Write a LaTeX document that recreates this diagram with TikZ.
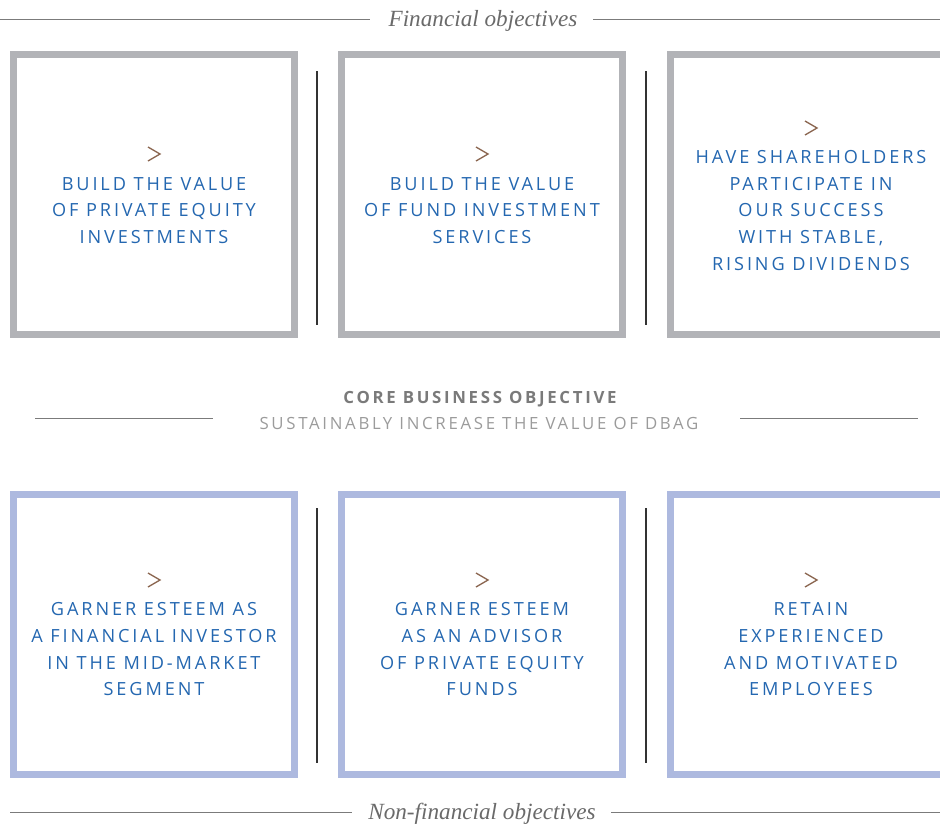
\documentclass[tikz,border=0pt]{standalone}
\usepackage{fontspec}
\setmainfont{Liberation Serif}
\newfontfamily\objfont[LetterSpace=16]{Open Sans}
\newfontfamily\corefont[LetterSpace=16]{Open Sans}
\definecolor{framegray}{HTML}{B2B3B7}
\definecolor{frameblue}{HTML}{ADB9DF}
\definecolor{objblue}{HTML}{2467B0}
\definecolor{chevbrown}{HTML}{8B6650}
\definecolor{titlegray}{HTML}{6A6A6A}
\definecolor{rulegray}{HTML}{7B7B7B}
\definecolor{coregray}{HTML}{7A7A7A}
\definecolor{subgray}{HTML}{9B9B9B}
\begin{document}
\begin{tikzpicture}[x=0.75pt,y=-0.75pt,
  framebox/.style={draw, line width=5.25pt, minimum width=210.75pt, minimum height=210pt, inner sep=0pt},
  grayframe/.style={framebox, draw=framegray},
  blueframe/.style={framebox, draw=frameblue},
  objtext/.style={align=center, text=objblue, font=\objfont\fontsize{13.6}{20}\selectfont, inner sep=0pt},
  chev/.style={draw=chevbrown, line width=1pt},
  sep/.style={draw=black!80, line width=0.8pt},
  hrule/.style={draw=rulegray, line width=0.75pt},
  title/.style={text=titlegray, font=\itshape\fontsize{17.4}{20}\selectfont, inner sep=0pt}
]
\useasboundingbox (0,0) rectangle (940,825);

% ---- financial objectives ----
\node[title] (fin) at (483,21) {Financial objectives};
\coordinate (finL) at (0,19);
\coordinate (finR) at (940,19);
\draw[hrule] (finL) -- (370,19);
\draw[hrule] (593,19) -- (finR);

\node[grayframe] (f1) at (154,194.5) {};
\node[grayframe] (f2) at (481.5,194.5) {};
\begin{scope}
  \clip (0,0) rectangle (940,825);
  \node[grayframe] (f3) at (810.5,194.5) {};
\end{scope}

\draw[sep] (317,71) -- (317,325);
\draw[sep] (646,71) -- (646,325);

\draw[chev] (148,147) -- (160,154) -- (148,161);
\draw[chev] (476,147) -- (488,154) -- (476,161);
\draw[chev] (805,121) -- (817,128) -- (805,135);

\node[objtext] (t1) at (154,210.5) {BUILD THE VALUE\\OF PRIVATE EQUITY\\INVESTMENTS};
\node[objtext] (t2) at (482,210.5) {BUILD THE VALUE\\OF FUND INVESTMENT\\SERVICES};
\node[objtext] (t3) at (811,210.5) {HAVE SHAREHOLDERS\\PARTICIPATE IN\\OUR SUCCESS\\WITH STABLE,\\RISING DIVIDENDS};

% ---- core business objective ----
\node[text=coregray, font=\corefont\bfseries\fontsize{12.6}{14}\selectfont, inner sep=0pt] (core) at (480,399.5) {CORE BUSINESS OBJECTIVE};
\node[text=subgray, font=\corefont\fontsize{12.6}{14}\selectfont, inner sep=0pt] (coresub) at (479,423) {SUSTAINABLY INCREASE THE VALUE OF DBAG};
\draw[hrule] (35,418) -- (213,418);
\draw[hrule] (740,418) -- (918,418);

% ---- non-financial objectives ----
\node[blueframe] (n1) at (154,634.5) {};
\node[blueframe] (n2) at (481.5,634.5) {};
\begin{scope}
  \clip (0,0) rectangle (940,825);
  \node[blueframe] (n3) at (810.5,634.5) {};
\end{scope}

\draw[sep] (317,508) -- (317,763);
\draw[sep] (646,508) -- (646,763);

\draw[chev] (148,573) -- (160,580) -- (148,587);
\draw[chev] (476,573) -- (488,580) -- (476,587);
\draw[chev] (805,573) -- (817,580) -- (805,587);

\node[objtext] (u1) at (154,649.5) {GARNER ESTEEM AS\\A FINANCIAL INVESTOR\\IN THE MID-MARKET\\SEGMENT};
\node[objtext] (u2) at (482,649.5) {GARNER ESTEEM\\AS AN ADVISOR\\OF PRIVATE EQUITY\\FUNDS};
\node[objtext] (u3) at (811,649.5) {RETAIN\\EXPERIENCED\\AND MOTIVATED\\EMPLOYEES};

\node[title] (nonfin) at (482,814) {Non-financial objectives};
\coordinate (nfL) at (10,812);
\coordinate (nfR) at (940,812);
\draw[hrule] (nfL) -- (352,812);
\draw[hrule] (611,812) -- (nfR);
\end{tikzpicture}
\end{document}
